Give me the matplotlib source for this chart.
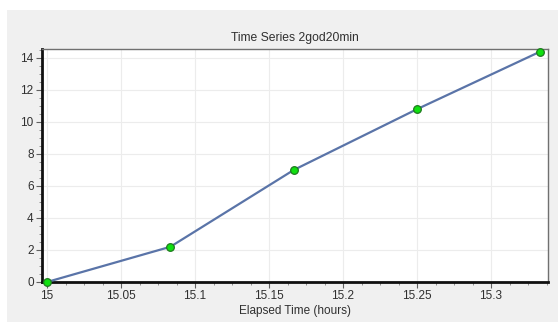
import matplotlib
matplotlib.use('Agg')
import matplotlib.pyplot as plt
from matplotlib.patches import Rectangle
from matplotlib.ticker import MultipleLocator, AutoMinorLocator

title = 'Time Series 2god20min'
xLabel = 'Elapsed Time (hours)'

elapsedHours = [15.0, 15.0833, 15.1667, 15.25, 15.3333]
values = [0.0, 2.2, 7.0, 10.8, 14.4]

plt.rcParams['font.family'] = ['Liberation Sans', 'DejaVu Sans']
plt.rcParams['font.size'] = 8.5
textColor = '#303030'

fig = plt.figure(figsize=(5.58, 3.22), dpi=100, facecolor='white')

# gray panel behind the chart
fig.patches.append(Rectangle((7 / 558, 0), 1 - 7 / 558, 1 - 10 / 322,
                             transform=fig.transFigure, facecolor='#f0f0f0',
                             edgecolor='none', zorder=-10))

ax = fig.add_axes([42 / 558, 40 / 322, 506 / 558, 233 / 322])
ax.set_facecolor('white')

ax.plot(elapsedHours, values, color='#5a74a8', linewidth=1.6, zorder=3,
        marker='o', markersize=5.5, markerfacecolor='#10e010',
        markeredgecolor='#1f7a1f', markeredgewidth=0.9, clip_on=False)

ax.set_xlim(14.9966, 15.3385)
ax.set_ylim(0, 14.56)
ax.xaxis.set_major_locator(MultipleLocator(0.05))
ax.xaxis.set_minor_locator(AutoMinorLocator(4))
ax.yaxis.set_major_locator(MultipleLocator(2))
ax.yaxis.set_minor_locator(AutoMinorLocator(4))
ax.xaxis.set_major_formatter(plt.FuncFormatter(lambda v, pos: '{:g}'.format(round(v, 2))))

ax.grid(True, which='major', color='#ececec', linewidth=0.8)
ax.set_axisbelow(True)

for side in ['top', 'right']:
    ax.spines[side].set_color('#707070')
    ax.spines[side].set_linewidth(1.0)
for side in ['left', 'bottom']:
    ax.spines[side].set_color('#101010')
    ax.spines[side].set_linewidth(2.0)

ax.tick_params(which='major', length=4, width=0.8, color='#606060',
               labelcolor=textColor, labelsize=8.5, pad=2)
ax.tick_params(which='minor', length=2, width=0.6, color='#808080')

ax.set_title(title, fontsize=8.7, color=textColor, pad=6)
ax.set_xlabel(xLabel, fontsize=8.5, color=textColor, labelpad=2)

fig.savefig('out.png', dpi=100, facecolor=fig.get_facecolor())
